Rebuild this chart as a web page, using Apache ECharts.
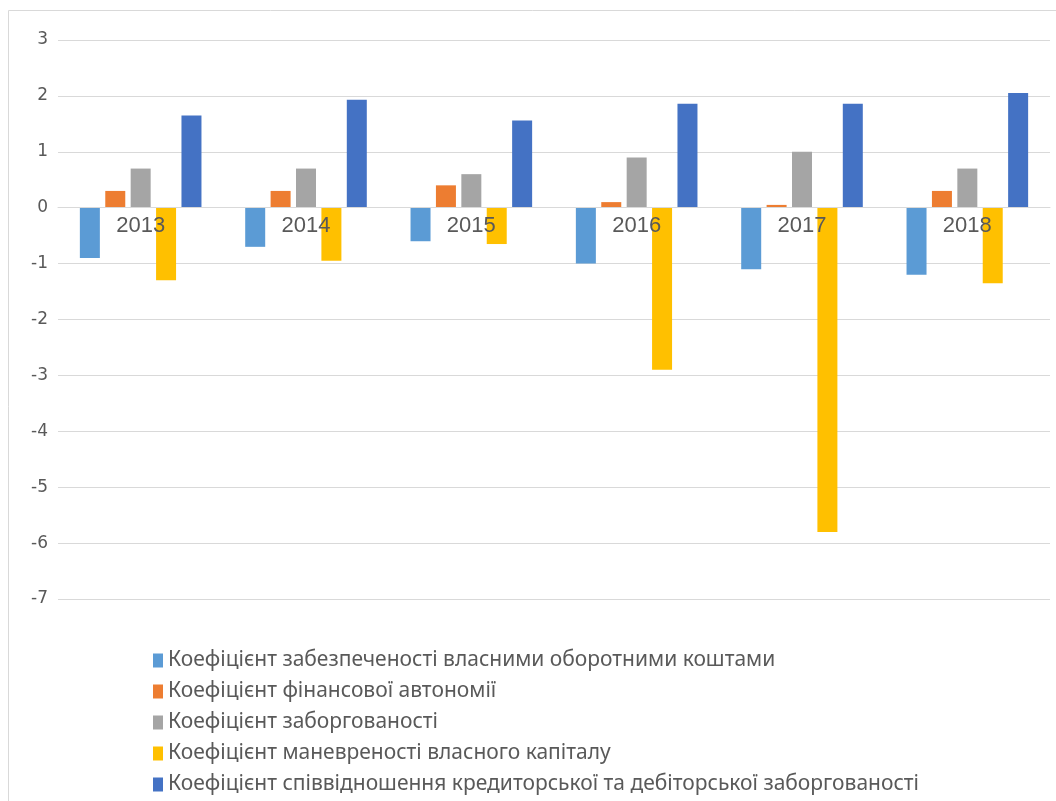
<!DOCTYPE html>
<html>
<head>
<meta charset="utf-8">
<script src="https://cdn.jsdelivr.net/npm/echarts@6/dist/echarts.min.js"></script>
<style>
  html, body { margin: 0; padding: 0; background: #fff; }
  #chart { width: 1056px; height: 801px; }
</style>
</head>
<body>
<div id="chart"></div>
<script>
// Years on the category axis
const years = ['2013', '2014', '2015', '2016', '2017', '2018'];

// Series names
const nameWorkingCapital = 'Коефіцієнт забезпеченості власними оборотними коштами';
const nameAutonomy = 'Коефіцієнт фінансової автономії';
const nameDebt = 'Коефіцієнт заборгованості';
const nameManeuver = 'Коефіцієнт маневреності власного капіталу';
const nameRatio = 'Коефіцієнт співвідношення кредиторської та дебіторської заборгованості';

// Series values per year
const workingCapital = [-0.9, -0.7, -0.6, -1.0, -1.1, -1.2];
const autonomy = [0.3, 0.3, 0.4, 0.1, 0.05, 0.3];
const debt = [0.7, 0.7, 0.6, 0.9, 1.0, 0.7];
const maneuver = [-1.3, -0.95, -0.65, -2.9, -5.8, -1.35];
const payRecRatio = [1.65, 1.93, 1.56, 1.86, 1.86, 2.05];

// Value axis range
const yMin = -7;
const yMax = 3;
const yStep = 1;

const colors = ['#5B9BD5', '#ED7D31', '#A5A5A5', '#FFC000', '#4472C4'];
const textColor = '#595959';
const fontFamily = '"Liberation Sans Narrow", "Noto Sans", sans-serif';

// Plot area
const gridTop = 40;
const gridBottom = 202;
const chartHeight = 801;
const plotHeight = chartHeight - gridTop - gridBottom;
// lift the category axis from the bottom edge up to the zero line
const zeroOffset = plotHeight * (0 - yMin) / (yMax - yMin);

const chart = echarts.init(document.getElementById('chart'));

function bar(name, data) {
  return { name, type: 'bar', data, barWidth: 20, barGap: '27%' };
}

chart.setOption({
  animation: false,
  color: colors,
  textStyle: { fontFamily },
  graphic: [{
    type: 'rect',
    shape: { x: 8.5, y: 10.5, width: 1060, height: 800 },
    style: { fill: 'none', stroke: '#D9D9D9', lineWidth: 1 }
  }],
  grid: { left: 58, right: 6, top: gridTop, bottom: gridBottom, containLabel: false },
  xAxis: {
    type: 'category',
    data: years,
    z: 10,
    offset: -zeroOffset,
    axisLine: { onZero: false, lineStyle: { color: '#D9D9D9', width: 1 } },
    axisTick: { show: false },
    axisLabel: { color: textColor, fontSize: 22, margin: 7, fontFamily: '"Liberation Sans", sans-serif' }
  },
  yAxis: {
    type: 'value',
    min: yMin, max: yMax, interval: yStep,
    axisLine: { show: false },
    axisTick: { show: false },
    axisLabel: { color: textColor, fontSize: 17, margin: 10, fontFamily: '"DejaVu Sans", sans-serif' },
    splitLine: { lineStyle: { color: '#D9D9D9', width: 1 } }
  },
  legend: {
    orient: 'vertical',
    left: 153,
    top: 650,
    padding: 0,
    itemWidth: 10,
    itemHeight: 14,
    itemGap: 10,
    icon: 'rect',
    textStyle: { color: textColor, fontSize: 21, fontFamily },
    data: [nameWorkingCapital, nameAutonomy, nameDebt, nameManeuver, nameRatio]
  },
  series: [
    bar(nameWorkingCapital, workingCapital),
    bar(nameAutonomy, autonomy),
    bar(nameDebt, debt),
    bar(nameManeuver, maneuver),
    bar(nameRatio, payRecRatio)
  ]
});
</script>
</body>
</html>
